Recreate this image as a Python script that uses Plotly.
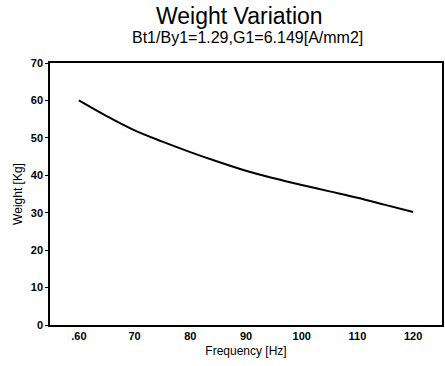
import plotly.graph_objects as go

frequency = [60, 65, 70, 75, 80, 85, 90, 95, 100, 105, 110, 115, 120]
weight = [60.0, 55.8, 52.0, 49.0, 46.2, 43.6, 41.2, 39.2, 37.4, 35.7, 34.0, 32.1, 30.2]
x_ticks = [60, 70, 80, 90, 100, 110, 120]
x_tick_labels = [".60", "70", "80", "90", "100", "110", "120"]
y_ticks = [0, 10, 20, 30, 40, 50, 60, 70]

fig = go.Figure()
fig.add_trace(go.Scatter(x=frequency, y=weight, mode="lines",
                         line=dict(color="black", width=2), line_shape="spline",
                         showlegend=False))

font = "Liberation Sans, Arial, sans-serif"
fig.update_layout(
    width=445, height=366,
    margin=dict(l=50, r=1, t=63, b=41),
    paper_bgcolor="white", plot_bgcolor="white",
    font=dict(family=font, color="black", size=11),
    xaxis=dict(range=[54.82, 125.18], tickvals=x_ticks, ticktext=x_tick_labels,
               showgrid=False, zeroline=False, showline=True, linecolor="black",
               linewidth=1.5, mirror=True, ticks="", tickfont=dict(size=11, weight="bold"),
               title=dict(text="Frequency [Hz]", font=dict(size=12), standoff=6)),
    yaxis=dict(range=[0, 70], tickvals=y_ticks, showgrid=False, zeroline=False,
               showline=True, linecolor="black", linewidth=1.5, mirror=True,
               ticks="outside", ticklen=3, tickcolor="black",
               tickfont=dict(size=11, weight="bold"),
               title=dict(text="Weight [Kg]", font=dict(size=12), standoff=6)),
    annotations=[
        dict(text="Weight Variation", showarrow=False, font=dict(size=23)),
        dict(text="Bt1/By1=1.29,G1=6.149[A/mm2]", showarrow=False, font=dict(size=16)),
    ],
)
ph = 366 - 63 - 41
pw = 445 - 50 - 1
fig.layout.annotations[0].update(xref="paper", yref="paper", x=(240 - 50) / pw,
                                 y=(325 - 16) / ph, yanchor="middle")
fig.layout.annotations[1].update(xref="paper", yref="paper", x=(249 - 50) / pw,
                                 y=(325 - 38) / ph, yanchor="middle")
fig.write_html("out.html")
